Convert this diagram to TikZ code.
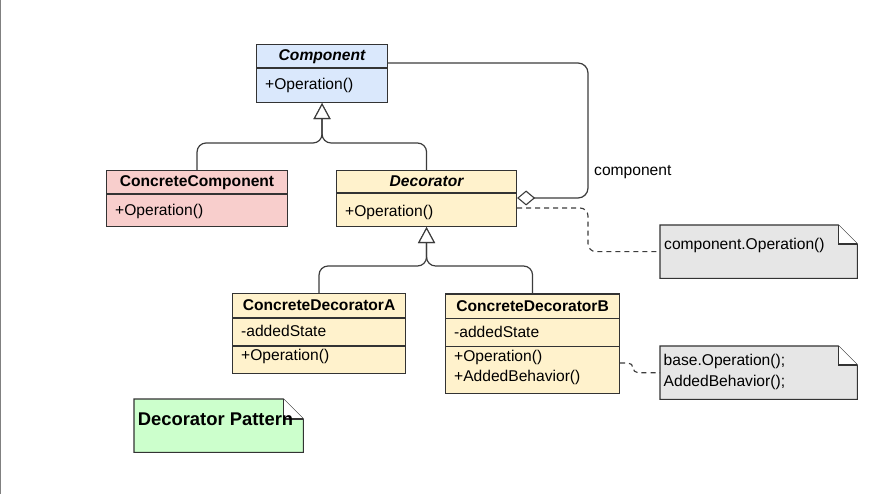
\documentclass[tikz,border=0pt]{standalone}
\usepackage{fontspec}
\setmainfont{Liberation Sans}
\usetikzlibrary{arrows.meta,calc}
\definecolor{compblue}{HTML}{DAE8FC}
\definecolor{ccred}{HTML}{F8CECC}
\definecolor{decyellow}{HTML}{FFF2CC}
\definecolor{notegray}{HTML}{E6E6E6}
\definecolor{notegreen}{HTML}{CCFFCC}
\definecolor{linecol}{HTML}{333333}
\definecolor{conncol}{HTML}{3C3C3C}
\begin{document}
\begin{tikzpicture}[x=1pt,y=-1pt,
  classbox/.style={draw=linecol, line width=1.1pt, inner sep=0pt, anchor=north west},
  divider/.style={draw=linecol, line width=1.1pt},
  ctitle/.style={anchor=base, inner sep=0pt, font=\fontsize{15.6}{18}\selectfont\bfseries},
  crow/.style={anchor=base west, inner sep=0pt, xshift=9pt, font=\fontsize{15.6}{18}\selectfont},
  notetext/.style={anchor=base west, inner sep=0pt, xshift=4pt, font=\fontsize{15.6}{18}\selectfont},
  noteframe/.style={draw=none, inner sep=0pt, anchor=north west},
  noteline/.style={draw=linecol, line width=1.1pt, line join=miter},
  conn/.style={draw=conncol, line width=1.2pt, rounded corners=9pt},
  gentip/.style={-{Triangle[length=16pt,width=17pt,fill=white,line width=1.1pt]}},
  dashline/.style={draw=conncol, line width=1.1pt, dash pattern=on 5pt off 4pt, rounded corners=8pt}
]
\useasboundingbox (0,0) rectangle (889,494);
\fill[white] (0,0) rectangle (889,494);
\draw[draw=gray, line width=1.4pt] (0.7,0) -- (0.7,494);

% ---- class boxes ----
\node[classbox, fill=compblue, minimum width=131pt, minimum height=58pt] (comp) at (256,44) {};
\draw[divider] (comp.west |- 0,68) -- (comp.east |- 0,68);
\node[ctitle] at (comp.north |- 0,61) {\itshape Component};
\node[crow] at (comp.west |- 0,89.5) {+Operation()};

\node[classbox, fill=ccred, minimum width=181pt, minimum height=56pt] (cc) at (106,170) {};
\draw[divider] (cc.west |- 0,194) -- (cc.east |- 0,194);
\node[ctitle] at (cc.north |- 0,187) {ConcreteComponent};
\node[crow] at (cc.west |- 0,216) {+Operation()};

\node[classbox, fill=decyellow, minimum width=180pt, minimum height=56pt] (dec) at (336,170) {};
\draw[divider] (dec.west |- 0,193) -- (dec.east |- 0,193);
\node[ctitle] at (dec.north |- 0,187) {\itshape Decorator};
\node[crow] at (dec.west |- 0,216.5) {+Operation()};

\node[classbox, fill=decyellow, minimum width=173pt, minimum height=80pt] (cda) at (232,293) {};
\draw[divider] (cda.west |- 0,318) -- (cda.east |- 0,318);
\draw[divider] (cda.west |- 0,346) -- (cda.east |- 0,346);
\node[ctitle] at (cda.north |- 0,311) {ConcreteDecoratorA};
\node[crow] at (cda.west |- 0,337) {-addedState};
\node[crow] at (cda.west |- 0,360.5) {+Operation()};

\node[classbox, fill=decyellow, minimum width=174pt, minimum height=99pt] (cdb) at (445,293.5) {};
\draw[divider] (cdb.west |- 0,318.5) -- (cdb.east |- 0,318.5);
\draw[divider] (cdb.west |- 0,346.5) -- (cdb.east |- 0,346.5);
\node[ctitle] at (cdb.north |- 0,311.5) {ConcreteDecoratorB};
\node[crow] at (cdb.west |- 0,337.5) {-addedState};
\node[crow] at (cdb.west |- 0,361.5) {+Operation()};
\node[crow] at (cdb.west |- 0,381.5) {+AddedBehavior()};

% ---- notes ----
\node[noteframe, minimum width=197pt, minimum height=53pt] (note1) at (660,225) {};
\draw[noteline, fill=notegray] (note1.north west) -- ($(note1.north east)+(-19,0)$) -- ($(note1.north east)+(0,19)$) -- (note1.south east) -- (note1.south west) -- cycle;
\draw[noteline, fill=white] ($(note1.north east)+(-19,0)$) -- ($(note1.north east)+(-19,19)$) -- ($(note1.north east)+(0,19)$);
\node[notetext] at (note1.west |- 0,250) {component.Operation()};

\node[noteframe, minimum width=197pt, minimum height=53pt] (note2) at (660,346) {};
\draw[noteline, fill=notegray] (note2.north west) -- ($(note2.north east)+(-19,0)$) -- ($(note2.north east)+(0,19)$) -- (note2.south east) -- (note2.south west) -- cycle;
\draw[noteline, fill=white] ($(note2.north east)+(-19,0)$) -- ($(note2.north east)+(-19,19)$) -- ($(note2.north east)+(0,19)$);
\node[notetext, xshift=-0.5pt] at (note2.west |- 0,366) {base.Operation();};
\node[notetext, xshift=-0.5pt] at (note2.west |- 0,386) {AddedBehavior();};

\node[noteframe, minimum width=169pt, minimum height=53pt] (note3) at (134,399) {};
\draw[noteline, fill=notegreen] (note3.north west) -- ($(note3.north east)+(-20,0)$) -- ($(note3.north east)+(0,20)$) -- (note3.south east) -- (note3.south west) -- cycle;
\draw[noteline, fill=white] ($(note3.north east)+(-20,0)$) -- ($(note3.north east)+(-20,20)$) -- ($(note3.north east)+(0,20)$);
\node[anchor=base, inner sep=0pt, font=\fontsize{18.4}{21}\selectfont\bfseries] at (215.5,425) {Decorator Pattern};

% ---- generalizations ----
\draw[conn, gentip] (cc.north) -- (cc.north |- 0,143) -- (comp.south |- 0,143) -- (comp.south);
\draw[conn, gentip] (dec.north) -- (dec.north |- 0,143) -- (comp.south |- 0,143) -- (comp.south);
\draw[conn, gentip] (cda.north) -- (cda.north |- 0,266) -- (dec.south |- 0,266) -- (dec.south);
\draw[conn, gentip] (cdb.north) -- (cdb.north |- 0,266) -- (dec.south |- 0,266) -- (dec.south);

% ---- aggregation ----
\coordinate (aggbend) at (588,63);
\draw[conn, rounded corners=10pt, {Diamond[length=18pt,width=15pt,fill=white,line width=1.1pt]}-]
  (dec.east |- 0,198) -- (aggbend |- 0,198) -- (aggbend) -- (comp.east |- aggbend);
\node[anchor=base west, inner sep=0pt, font=\fontsize{15.6}{18}\selectfont] (complabel) at (594,176) {component};

% ---- note links ----
\coordinate (nbend1) at (588,208);
\draw[dashline] (dec.east |- nbend1) -- (nbend1) -- (nbend1 |- note1.west) -- (note1.west);
\coordinate (nbend2) at (633,363);
\draw[dashline, rounded corners=5pt] (cdb.east |- nbend2) -- (nbend2) -- (nbend2 |- note2.west) -- (note2.west);
\end{tikzpicture}
\end{document}
